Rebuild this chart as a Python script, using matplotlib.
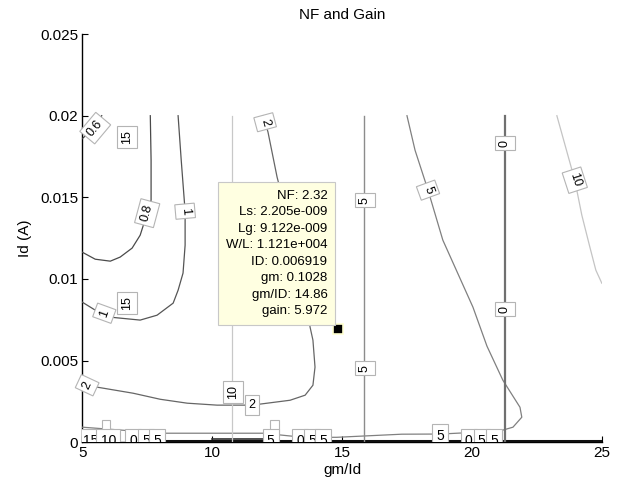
import matplotlib
matplotlib.use('Agg')
import matplotlib.pyplot as plt
import numpy as np

plt.rcParams['font.family'] = ['Liberation Sans', 'DejaVu Sans']

# NF contours (gm/Id, Id) traced along each level
nf06_x = [5.0, 5.3, 5.5, 5.75]
nf06_y = [0.0186, 0.0190, 0.0193, 0.0200]
nf08_x = [7.62, 7.65, 7.65, 7.5, 7.23, 6.92, 6.46, 6.08, 5.5, 5.0]
nf08_y = [0.0200, 0.01728, 0.01483, 0.01403, 0.01268, 0.01189, 0.01134, 0.01109, 0.01121, 0.01164]
nf1_x = [8.69, 8.81, 8.96, 8.96, 8.88, 8.69, 8.5, 7.88, 7.23, 6.08, 5.5, 5.0]
nf1_y = [0.0200, 0.01728, 0.01415, 0.01207, 0.01036, 0.00931, 0.00852, 0.00778, 0.00748, 0.00766, 0.00809, 0.00858]
nf2_x = [11.96, 12.15, 12.5, 12.73, 13.08, 13.38, 13.62, 13.77, 13.88, 13.96, 13.88, 13.58,
         13.0, 12.12, 11.54, 10.19, 9.04, 8.0, 6.96, 5.58, 5.0]
nf2_y = [0.0200, 0.0190, 0.01624, 0.01483, 0.01238, 0.01054, 0.0087, 0.00705, 0.00625, 0.0046, 0.00349, 0.00288,
         0.00257, 0.00239, 0.00227, 0.00227, 0.00239, 0.00263, 0.0030, 0.00337, 0.0038]
nf5_x = [17.5, 17.81, 18.31, 18.88, 20.04, 20.58, 21.19, 21.85, 21.92, 21.58, 21.19, 19.8, 18.8,
         17.3, 14.8, 13.5, 11.96, 8.12, 6.0, 5.0]
nf5_y = [0.0200, 0.01789, 0.01544, 0.01238, 0.00827, 0.00588, 0.0038, 0.00214, 0.00153, 0.00092, 0.00074, 0.00058, 0.0005,
         0.00049, 0.0003, 0.0003, 0.00055, 0.00055, 0.0008, 0.00092]
nf10_x = [23.27, 23.96, 24.23, 24.54, 24.77, 25.0]
nf10_y = [0.0200, 0.01605, 0.01391, 0.01195, 0.01054, 0.00974]
low_x = [10.0, 12.0]
low_y = [0.00018, 0.00018]
floor_x = [8.12, 25.0]
floor_y = [0.00006, 0.00006]

# gain contours are vertical (depend on gm/Id only)
gain_levels = ['10', '5', '0']
gain_x = [10.77, 15.85, 21.27]
gain_top = 0.02

# contour labels: x, y, text, rotation
labels_x = [5.5, 6.73, 7.5, 8.96, 12.04, 18.31, 23.96, 15.88, 15.88, 21.27, 21.27,
            5.85, 6.73, 5.19, 10.81, 11.54]
labels_y = [0.01924, 0.01869, 0.01403, 0.01415, 0.0196, 0.01544, 0.01605, 0.01483, 0.00453, 0.01832, 0.00815,
            0.0079, 0.00852, 0.00349, 0.00306, 0.00227]
labels_txt = ['0.6', '15', '0.8', '1', '2', '5', '10', '5', '5', '0', '0',
              '1', '15', '2', '10', '2']
labels_rot = [50, 90, 75, -85, -75, -70, -72, 90, 90, 90, 90,
              70, 90, 65, 90, 0]

# crowded labels along Id ~ 0
bottom_x = [5.31, 6.0, 6.96, 7.46, 7.88, 12.25, 13.38, 13.85, 14.27, 18.77, 19.88, 20.38, 20.85]
bottom_y = [0.0001, 0.0001, 0.0001, 0.0001, 0.0001, 0.0001, 0.0001, 0.0001, 0.0001,
            0.0004, 0.0001, 0.0001, 0.0001]
bottom_txt = ['15', '10', '0', '5', '5', '5', '0', '5', '5', '5', '0', '5', '5']
raised_x = [5.92, 12.4]
raised_y = [0.00085, 0.00085]

# data cursor
tip_gmid = 14.86
tip_id = 0.006919
tip_lines = ['NF: 2.32', 'Ls: 2.205e-009', 'Lg: 9.122e-009', 'W/L: 1.121e+004',
             'ID: 0.006919', 'gm: 0.1028', 'gm/ID: 14.86', 'gain: 5.972']

fig = plt.figure(figsize=(6.23, 4.87), dpi=100)
ax = fig.add_axes([0.132, 0.092, 0.834, 0.838])

ax.plot(nf06_x, nf06_y, color='#404040', lw=0.9)
ax.plot(nf08_x, nf08_y, color='#4a4a4a', lw=0.9)
ax.plot(nf1_x, nf1_y, color='#555555', lw=0.9)
ax.plot(nf2_x, nf2_y, color='#666666', lw=0.9)
ax.plot(nf5_x, nf5_y, color='#808080', lw=0.9)
ax.plot(nf10_x, nf10_y, color='#c4c4c4', lw=0.9)
ax.plot(low_x, low_y, color='#303030', lw=1.2)
ax.plot(floor_x, floor_y, color='#101010', lw=2.2)

gain_colors = ['#c8c8c8', '#8c8c8c', '#707070']
gain_lw = [0.9, 1.0, 1.6]
for gx, c, w in zip(gain_x, gain_colors, gain_lw):
    ax.plot([gx, gx], [0, gain_top], color=c, lw=w)

box = dict(boxstyle='square,pad=0.3', fc='white', ec='#b4b4b4', lw=0.8)
for x, y, t, r in zip(labels_x, labels_y, labels_txt, labels_rot):
    ax.text(x, y, t, rotation=r, ha='center', va='center', fontsize=9,
            bbox=box, zorder=4, rotation_mode='anchor')
for x, y in zip(raised_x, raised_y):
    ax.text(x, y, ' ', ha='center', va='center', fontsize=7,
            bbox=box, zorder=3.5, clip_on=True)
for x, y, t in zip(bottom_x, bottom_y, bottom_txt):
    ax.text(x, y, t, ha='center', va='center', fontsize=10,
            bbox=box, zorder=4, clip_on=True)

ax.plot([tip_gmid], [tip_id], marker='s', ms=7, color='black', mec='#ffffd0', mew=1.2, zorder=6)
ax.annotate('\n'.join(tip_lines), xy=(tip_gmid, tip_id), xytext=(-11, 12),
            textcoords='offset pixels', ha='right', va='bottom', multialignment='right',
            fontsize=9.5, linespacing=1.5, zorder=7,
            bbox=dict(boxstyle='square,pad=0.6', fc='#ffffe1', ec='#c8c8c8', lw=0.8))

ax.set_xlim(5, 25)
ax.set_ylim(0, 0.025)
ax.set_xticks([5, 10, 15, 20, 25])
ax.set_yticks([0, 0.005, 0.01, 0.015, 0.02, 0.025])
ax.set_yticklabels(['0', '0.005', '0.01', '0.015', '0.02', '0.025'])
ax.tick_params(direction='in', length=4, labelsize=11, pad=3)
for side in ['top', 'right']:
    ax.spines[side].set_visible(False)
for side in ['left', 'bottom']:
    ax.spines[side].set_linewidth(1.0)
    ax.spines[side].set_zorder(1)

ax.set_title('NF and Gain', fontsize=11, pad=11)
ax.set_xlabel('gm/Id', fontsize=11, labelpad=2)
ax.set_ylabel('Id (A)', fontsize=11, labelpad=6)

fig.savefig('out.png', dpi=100)
